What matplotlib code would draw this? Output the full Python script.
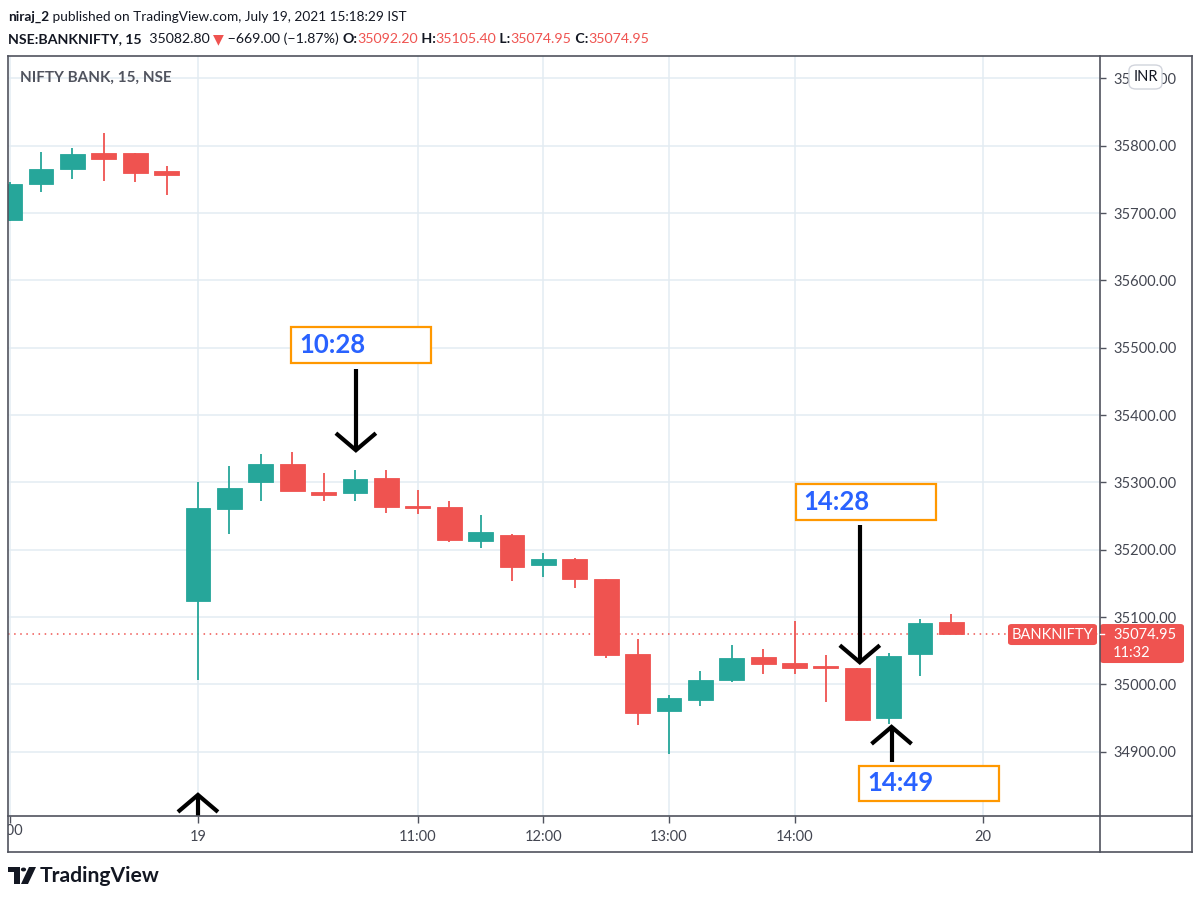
import matplotlib
matplotlib.use("Agg")
import matplotlib.pyplot as plt
import numpy as np
from matplotlib.patches import Rectangle, FancyBboxPatch, Circle, Polygon
from matplotlib.lines import Line2D
from matplotlib.transforms import Bbox

# ---- data -----------------------------------------------------------------
# previous session (16 Jul) last six 15-min bars, then 19 Jul session
opens = [35690, 35744, 35766, 35789, 35789, 35763,
         35124, 35260, 35300, 35327, 35286, 35284, 35306, 35265, 35264, 35213,
         35222, 35177, 35187, 35156, 35046, 34960, 34977, 35007, 35041, 35032,
         35027, 35025, 34950, 35045, 35092.20]
highs = [35746, 35791, 35797, 35819, 35789, 35770,
         35300, 35324, 35342, 35346, 35314, 35319, 35318, 35289, 35272, 35252,
         35223, 35196, 35188, 35157, 35068, 34984, 35020, 35058, 35052, 35094,
         35044, 35025, 35047, 35098, 35105.40]
lows = [35688, 35731, 35750, 35748, 35747, 35727,
        35007, 35223, 35273, 35288, 35272, 35272, 35254, 35253, 35211, 35203,
        35154, 35160, 35144, 35040, 34940, 34897, 34968, 35003, 35015, 35015,
        34974, 34946, 34941, 35012, 35074.95]
closes = [35744, 35766, 35788, 35781, 35760, 35756,
          35262, 35292, 35327, 35288, 35282, 35305, 35263, 35262, 35215, 35226,
          35175, 35186, 35156, 35044, 34958, 34980, 35006, 35040, 35030, 35024,
          35024, 34948, 35042, 35092, 35074.95]
n_prev = 6

time_ticks = [-6, 0, 7, 11, 15, 19, 25]
time_labels = ["14:00", "19", "11:00", "12:00", "13:00", "14:00", "20"]
price_ticks = [34900, 35000, 35100, 35200, 35300, 35400, 35500, 35600, 35700, 35800, 35900]
last_price = 35074.95

# annotations: bar, tip price, tail price
arrow_bars = [5.03, 21.08, 22.09, 0.0]
arrow_tips = [35348, 35033, 34937, 34836]
arrow_tails = [35469, 35237, 34885, 34805]
box_labels = ["10:28", "14:28", "14:49"]
box_left = [2.96, 19.04, 21.06]
box_right = [7.42, 23.50, 25.51]
box_top = [35531, 35298, 34879]
box_bottom = [35477, 35245, 34827]

GREEN = "#26a69a"
RED = "#ef5350"
TXT = "#131722"
FRAME = "#50535e"
GRID = "#e3ecf2"
FONT = ["Lato", "DejaVu Sans"]
plt.rcParams["font.family"] = FONT

W, H = 1200, 899
fig = plt.figure(figsize=(12, 8.99), dpi=100)


def fbox(x0, y0, x1, y1):
    return [x0 / W, 1 - y1 / H, (x1 - x0) / W, (y1 - y0) / H]


ax = fig.add_axes(fbox(8, 56, 1100, 816))
px_bar = 31.4            # pixels per bar
px_price = 0.6733        # pixels per price point
ax.set_xlim(-6.05, 28.73)
ax.set_ylim(34804.7, 35933.4)

# grid
for t in time_ticks:
    ax.axvline(t, color=GRID, lw=1.1, zorder=0)
for p in price_ticks:
    ax.axhline(p, color=GRID, lw=1.1, zorder=0)

# candles
x = np.arange(len(opens)) - n_prev
o = np.array(opens)
c = np.array(closes)
up = c >= o
cols = np.where(up, GREEN, RED)
ax.vlines(x, lows, highs, colors=cols, lw=1.3, zorder=2)
body_lo = np.minimum(o, c)
body_h = np.maximum(np.abs(c - o), 3.5)
ax.bar(x, body_h, bottom=body_lo, width=0.79, color=cols, edgecolor=cols,
       lw=0.6, zorder=3)

# last price line
ax.axhline(last_price, color=RED, lw=1.1, ls=(0, (1, 3)), zorder=1)

# axes styling
for s in ax.spines.values():
    s.set_visible(False)
ax.yaxis.tick_right()
ax.set_yticks(price_ticks)
ax.set_yticklabels(["%.2f" % p for p in price_ticks])
ax.tick_params(axis="y", length=4, width=1, color=FRAME, pad=6,
               labelsize=10.5, labelcolor="#434651")
ax.set_xticks(time_ticks)
ax.set_xticklabels([""] + time_labels[1:])
ax.tick_params(axis="x", length=5, width=1, color=FRAME, pad=5,
               labelsize=10.5, labelcolor="#434651")
t0 = ax.text(time_ticks[0] - 5 / px_bar, -0.0105, time_labels[0],
             transform=ax.get_xaxis_transform(),
             ha="center", va="top", fontsize=10.5, color="#434651", clip_on=True)
t0.set_clip_box(Bbox.from_extents(8, 0, W, H))

# arrows
dx = 20 / px_bar
dy = 17 / px_price
for b, tip, tail in zip(arrow_bars, arrow_tips, arrow_tails):
    sgn = 1 if tail > tip else -1
    ax.plot([b, b], [tail, tip], color="black", lw=3, solid_capstyle="butt",
            zorder=6, clip_on=False)
    ax.plot([b - dx, b, b + dx], [tip + sgn * dy, tip, tip + sgn * dy],
            color="black", lw=3, solid_capstyle="butt", solid_joinstyle="miter",
            zorder=6, clip_on=False)

# labelled boxes
for lab, l, r, tp, bt in zip(box_labels, box_left, box_right, box_top, box_bottom):
    ax.add_patch(Rectangle((l, bt), r - l, tp - bt, facecolor="white",
                           edgecolor="#ff9800", lw=1.6, zorder=7, clip_on=False))
    ax.text(l + 8 / px_bar, (tp + bt) / 2, lab, ha="left", va="center",
            fontsize=18.5, fontweight="bold", color="#2962ff", zorder=8)

# frame lines (figure pixels)
def hline(y, x0, x1):
    fig.add_artist(Line2D([x0 / W, x1 / W], [1 - y / H, 1 - y / H], color=FRAME, lw=1.2))


def vline(xp, y0, y1):
    fig.add_artist(Line2D([xp / W, xp / W], [1 - y0 / H, 1 - y1 / H], color=FRAME, lw=1.2))


hline(56, 8, 1192)
hline(816, 8, 1192)
hline(852, 8, 1192)
vline(8, 56, 852)
vline(1100, 56, 852)
vline(1192, 56, 852)

# last price labels
fig.canvas.draw()
y_disp = ax.transData.transform((0, last_price))[1]
yp = H - y_disp
fig.add_artist(FancyBboxPatch((1008 / W, 1 - (yp + 11) / H), 89 / W, 21 / H,
                              boxstyle="round,pad=0,rounding_size=0.003",
                              facecolor=RED, edgecolor="none", transform=fig.transFigure))
fig.text(1052.5 / W, 1 - (yp + 0.5) / H, "BANKNIFTY", ha="center", va="center",
         color="white", fontsize=10.5)
fig.add_artist(FancyBboxPatch((1100 / W, 1 - (yp + 29) / H), 84 / W, 39 / H,
                              boxstyle="round,pad=0,rounding_size=0.003",
                              facecolor=RED, edgecolor="none", transform=fig.transFigure))
fig.add_artist(Line2D([1100 / W, 1104 / W], [1 - yp / H, 1 - yp / H], color="white", lw=1))
fig.text(1113 / W, 1 - (yp + 0.5) / H, "%.2f" % last_price, ha="left", va="center",
         color="white", fontsize=10.5)
fig.text(1113 / W, 1 - (yp + 19) / H, "11:32", ha="left", va="center",
         color="white", fontsize=10.5)

# INR button
fig.add_artist(FancyBboxPatch((1129 / W, 1 - 89 / H), 33 / W, 24 / H,
                              boxstyle="round,pad=0,rounding_size=0.006",
                              facecolor="white", edgecolor="#d1d4dc", lw=1,
                              transform=fig.transFigure, zorder=10))
fig.text(1145.5 / W, 1 - 77 / H, "INR", ha="center", va="center", color=TXT,
         fontsize=10.5, zorder=11)

# chart title
fig.text(20 / W, 1 - 78 / H, "NIFTY BANK, 15, NSE", ha="left", va="center",
         color="#50535e", fontsize=11, fontweight="bold")

# header rich text
renderer = fig.canvas.get_renderer()


def rich(pieces, x0, y, size):
    xp = x0
    for txt, wt, col in pieces:
        t = fig.text(xp / W, 1 - y / H, txt, ha="left", va="center", fontsize=size,
                     fontweight=wt, color=col)
        xp += t.get_window_extent(renderer).width


rich([("niraj_2", "bold", TXT),
      (" published on TradingView.com, July 19, 2021 15:18:29 IST", "normal", TXT)],
     8, 17, 9.8)
rich([("NSE:BANKNIFTY, 15", "bold", TXT), ("  35082.80 ", "normal", TXT),
      ("▼", "normal", RED), (" \u2212669.00 (\u22121.87%) ", "normal", TXT),
      ("O:", "bold", TXT), ("35092.20", "normal", RED),
      (" H:", "bold", TXT), ("35105.40", "normal", RED),
      (" L:", "bold", TXT), ("35074.95", "normal", RED),
      (" C:", "bold", TXT), ("35074.95", "normal", RED)],
     8, 39, 10.2)

# TradingView logo
def fp(xp, ypx):
    return (xp / W, 1 - ypx / H)


fig.add_artist(Polygon([fp(8, 867), fp(20, 867), fp(20, 884), fp(14, 884), fp(14, 872), fp(8, 872)],
                       closed=True, facecolor=TXT, edgecolor="none", transform=fig.transFigure))
fig.add_artist(Circle(fp(23.5, 869.5), 2.6 / W, facecolor=TXT, edgecolor="none",
                      transform=fig.transFigure))
fig.add_artist(Polygon([fp(29, 867), fp(36, 867), fp(28, 884), fp(21, 884)],
                       closed=True, facecolor=TXT, edgecolor="none", transform=fig.transFigure))
fig.text(40 / W, 1 - 876 / H, "TradingView", ha="left", va="center", color=TXT,
         fontsize=15.2, fontweight="bold")

fig.savefig("out.png", dpi=100)
